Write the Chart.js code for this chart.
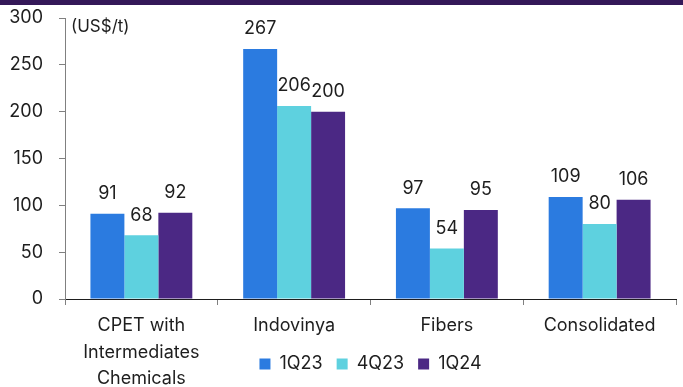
<!DOCTYPE html>
<html>
<head>
<meta charset="utf-8">
<script src="https://cdn.jsdelivr.net/npm/chart.js@4.4.1/dist/chart.umd.min.js"></script>
<style>
  html, body { margin: 0; padding: 0; background: #fff; }
  #band { width: 683px; height: 5px; background: #341858; }
  #wrap { position: relative; width: 683px; height: 382px; }
</style>
</head>
<body>
<div id="band"></div>
<div id="wrap"><canvas id="costChart"></canvas></div>
<script>
// Chart data
const categories = [['CPET with', 'Intermediates', 'Chemicals'], 'Indovinya', 'Fibers', 'Consolidated'];
const seriesNames = ['1Q23', '4Q23', '1Q24'];
const values1Q23 = [91, 267, 97, 109];
const values4Q23 = [68, 206, 54, 80];
const values1Q24 = [92, 200, 95, 106];
const yTicks = [0, 50, 100, 150, 200, 250, 300];
const unitLabel = '(US$/t)';

const colors = ['#2B7BE0', '#5ED1DF', '#4B2884'];
const textColor = '#1e1e1e';
const fontFamily = 'Inter';

// Value labels above each bar
const valueLabels = {
    id: 'valueLabels',
    afterDatasetsDraw(chart) {
        const ctx = chart.ctx;
        ctx.save();
        ctx.font = '18px ' + fontFamily;
        ctx.fillStyle = textColor;
        ctx.textAlign = 'center';
        ctx.textBaseline = 'middle';
        chart.data.datasets.forEach((ds, i) => {
            chart.getDatasetMeta(i).data.forEach((bar, j) => {
                ctx.fillText(ds.data[j], bar.x, bar.y - 20);
            });
        });
        ctx.restore();
    }
};

// Unit note in the top-left corner of the plot
const unitNote = {
    id: 'unitNote',
    afterDraw(chart) {
        const ctx = chart.ctx;
        ctx.save();
        ctx.font = '17px ' + fontFamily;
        ctx.fillStyle = textColor;
        ctx.textAlign = 'left';
        ctx.textBaseline = 'middle';
        ctx.fillText(unitLabel, chart.chartArea.left + 6, chart.chartArea.top + 9);
        ctx.restore();
    }
};

// let the 3-line category labels overlap the legend row (labels are clipped to the scale box)
const stretchXLabels = {
    id: 'stretchXLabels',
    afterLayout(chart) {
        chart.scales.x.bottom = chart.height;
    }
};

const costCtx = document.getElementById('costChart').getContext('2d');
new Chart(costCtx, {
    type: 'bar',
    data: {
        labels: categories,
        datasets: [
            { label: seriesNames[0], data: values1Q23, backgroundColor: colors[0] },
            { label: seriesNames[1], data: values4Q23, backgroundColor: colors[1] },
            { label: seriesNames[2], data: values1Q24, backgroundColor: colors[2] }
        ]
    },
    options: {
        responsive: true,
        maintainAspectRatio: false,
        animation: false,
        datasets: {
            bar: { barPercentage: 1, categoryPercentage: 0.667 }
        },
        layout: { padding: { top: 13, right: 7, left: 0, bottom: 4 } },
        scales: {
            x: {
                grid: { display: true, drawOnChartArea: false, drawTicks: true, tickLength: 6, color: '#808080', offset: true },
                border: { display: true, color: '#1e1e1e', width: 1 },
                ticks: { color: textColor, padding: 8, maxRotation: 0, font: { family: fontFamily, size: 18, lineHeight: 1.45 } },
                afterFit(scale) { scale.height = 42; }
            },
            y: {
                min: 0,
                max: 300,
                afterBuildTicks(scale) { scale.ticks = yTicks.map(v => ({ value: v })); },
                grid: { display: true, drawOnChartArea: false, drawTicks: true, tickLength: 6, color: '#808080' },
                border: { display: true, color: '#808080', width: 1 },
                ticks: { color: textColor, padding: 16, font: { family: fontFamily, size: 18 } },
                afterFit(scale) {
                    scale.width = 65;
                    // tick padding would otherwise push the plot top down
                    scale.paddingTop = 10;
                    scale.paddingBottom = 10;
                }
            }
        },
        plugins: {
            legend: {
                position: 'bottom',
                fullSize: false,
                labels: {
                    boxWidth: 11,
                    boxHeight: 11,
                    padding: 14,
                    color: textColor,
                    font: { family: fontFamily, size: 18 }
                }
            },
            tooltip: { enabled: false }
        }
    },
    plugins: [valueLabels, unitNote, stretchXLabels]
});
</script>
</body>
</html>
